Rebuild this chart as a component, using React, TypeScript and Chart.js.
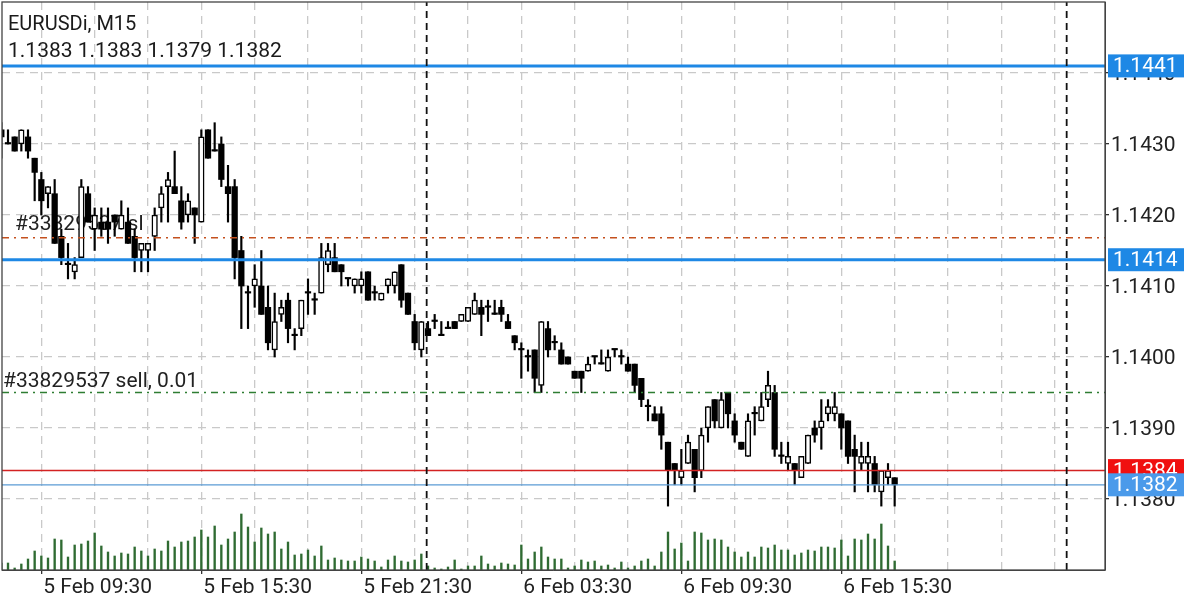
import React, { useEffect, useRef } from 'react';
import Chart from 'chart.js/auto';

// M15 bars, first bar = 5 Feb 08:00
const opens = [
  1.1432, 1.1430, 1.1431, 1.1430, 1.1431, 1.1428, 1.1425, 1.1423, 1.1423, 1.1417, 1.1413, 1.1412, 1.1414, 1.1423, 1.1418, 1.1419,
  1.1419, 1.1420, 1.1418, 1.1419, 1.1417, 1.1415, 1.1415, 1.1417, 1.1421, 1.1424, 1.1424, 1.1422, 1.1420, 1.1421, 1.1419, 1.1432,
  1.1429, 1.1430, 1.1424, 1.1424, 1.1415, 1.1409, 1.1410, 1.1410, 1.1407, 1.1401, 1.1406, 1.1408, 1.1403, 1.1404, 1.1409, 1.1408,
  1.1409, 1.1413, 1.1414, 1.1413, 1.1411, 1.1410, 1.1410, 1.1412, 1.1409, 1.1408, 1.1410, 1.1410, 1.1413, 1.1409, 1.1405, 1.1401,
  1.1404, 1.1405, 1.1403, 1.1404, 1.1405, 1.1405, 1.1405, 1.1406, 1.1407, 1.1407, 1.1406, 1.1407, 1.1405, 1.1403, 1.1401, 1.1400,
  1.1401, 1.1396, 1.1404, 1.1402, 1.1401, 1.1400, 1.1398, 1.1398, 1.1398, 1.1400, 1.1399, 1.1398, 1.1401, 1.1400, 1.1399, 1.1399,
  1.1397, 1.1393, 1.1392, 1.1392, 1.1388, 1.1385, 1.1383, 1.1385, 1.1387, 1.1384, 1.1390, 1.1394, 1.1390, 1.1395, 1.1391, 1.1388,
  1.1386, 1.1392, 1.1391, 1.1394, 1.1395, 1.1386, 1.1385, 1.1385, 1.1383, 1.1385, 1.1390, 1.1390, 1.1392, 1.1392, 1.1392, 1.1391,
  1.1387, 1.1385, 1.1385, 1.1385, 1.1381, 1.1383, 1.1383,
];
const highs = [
  1.1433, 1.1432, 1.1431, 1.1432, 1.1432, 1.1428, 1.1426, 1.1424, 1.1425, 1.1418, 1.1416, 1.1414, 1.1425, 1.1424, 1.1421, 1.1421,
  1.1421, 1.1420, 1.1422, 1.1421, 1.1418, 1.1416, 1.1416, 1.1421, 1.1424, 1.1426, 1.1429, 1.1424, 1.1423, 1.1421, 1.1432, 1.1432,
  1.1433, 1.1431, 1.1427, 1.1425, 1.1417, 1.1410, 1.1413, 1.1415, 1.1410, 1.1409, 1.1408, 1.1409, 1.1404, 1.1408, 1.1411, 1.1409,
  1.1416, 1.1416, 1.1416, 1.1413, 1.1411, 1.1411, 1.1412, 1.1412, 1.1410, 1.1409, 1.1411, 1.1412, 1.1413, 1.1409, 1.1406, 1.1405,
  1.1405, 1.1406, 1.1405, 1.1405, 1.1405, 1.1406, 1.1407, 1.1409, 1.1408, 1.1408, 1.1408, 1.1408, 1.1406, 1.1403, 1.1402, 1.1401,
  1.1401, 1.1405, 1.1405, 1.1403, 1.1402, 1.1400, 1.1398, 1.1398, 1.1400, 1.1400, 1.1401, 1.1401, 1.1401, 1.1401, 1.1400, 1.1399,
  1.1397, 1.1394, 1.1393, 1.1393, 1.1388, 1.1385, 1.1387, 1.1389, 1.1387, 1.1390, 1.1393, 1.1394, 1.1395, 1.1395, 1.1392, 1.1388,
  1.1392, 1.1393, 1.1395, 1.1398, 1.1396, 1.1388, 1.1388, 1.1385, 1.1386, 1.1389, 1.1391, 1.1394, 1.1394, 1.1395, 1.1392, 1.1391,
  1.1389, 1.1388, 1.1388, 1.1386, 1.1384, 1.1385, 1.1383,
];
const lows = [
  1.1428, 1.1430, 1.1429, 1.1429, 1.1428, 1.1422, 1.1420, 1.1421, 1.1416, 1.1413, 1.1411, 1.1411, 1.1414, 1.1419, 1.1415, 1.1417,
  1.1416, 1.1417, 1.1418, 1.1416, 1.1412, 1.1412, 1.1412, 1.1415, 1.1419, 1.1419, 1.1423, 1.1418, 1.1419, 1.1416, 1.1419, 1.1428,
  1.1429, 1.1424, 1.1419, 1.1411, 1.1404, 1.1404, 1.1407, 1.1406, 1.1401, 1.1400, 1.1405, 1.1402, 1.1401, 1.1403, 1.1406, 1.1406,
  1.1409, 1.1412, 1.1412, 1.1410, 1.1410, 1.1409, 1.1409, 1.1408, 1.1408, 1.1408, 1.1409, 1.1409, 1.1407, 1.1406, 1.1401, 1.1400,
  1.1403, 1.1404, 1.1403, 1.1404, 1.1404, 1.1405, 1.1405, 1.1406, 1.1403, 1.1405, 1.1406, 1.1405, 1.1404, 1.1401, 1.1397, 1.1398,
  1.1395, 1.1395, 1.1400, 1.1401, 1.1399, 1.1399, 1.1397, 1.1395, 1.1398, 1.1399, 1.1399, 1.1398, 1.1400, 1.1399, 1.1398, 1.1395,
  1.1393, 1.1391, 1.1391, 1.1387, 1.1379, 1.1382, 1.1382, 1.1385, 1.1381, 1.1383, 1.1388, 1.1390, 1.1390, 1.1390, 1.1388, 1.1387,
  1.1386, 1.1389, 1.1391, 1.1393, 1.1386, 1.1385, 1.1384, 1.1382, 1.1383, 1.1385, 1.1388, 1.1387, 1.1391, 1.1391, 1.1387, 1.1385,
  1.1381, 1.1384, 1.1381, 1.1381, 1.1379, 1.1382, 1.1379,
];
const closes = [
  1.1431, 1.1430, 1.1429, 1.1432, 1.1429, 1.1426, 1.1422, 1.1424, 1.1416, 1.1414, 1.1413, 1.1413, 1.1424, 1.1419, 1.1420, 1.1418,
  1.1418, 1.1419, 1.1420, 1.1416, 1.1414, 1.1416, 1.1416, 1.1420, 1.1423, 1.1425, 1.1423, 1.1419, 1.1422, 1.1420, 1.1431, 1.1428,
  1.1429, 1.1425, 1.1423, 1.1414, 1.1410, 1.1409, 1.1411, 1.1406, 1.1402, 1.1405, 1.1407, 1.1404, 1.1403, 1.1408, 1.1409, 1.1408,
  1.1414, 1.1415, 1.1412, 1.1412, 1.1411, 1.1411, 1.1411, 1.1408, 1.1409, 1.1409, 1.1411, 1.1412, 1.1408, 1.1406, 1.1402, 1.1405,
  1.1403, 1.1405, 1.1403, 1.1404, 1.1404, 1.1406, 1.1407, 1.1408, 1.1406, 1.1407, 1.1406, 1.1406, 1.1404, 1.1402, 1.1401, 1.1400,
  1.1397, 1.1405, 1.1401, 1.1402, 1.1399, 1.1399, 1.1397, 1.1397, 1.1399, 1.1400, 1.1399, 1.1400, 1.1401, 1.1400, 1.1398, 1.1396,
  1.1394, 1.1393, 1.1391, 1.1389, 1.1384, 1.1384, 1.1384, 1.1388, 1.1383, 1.1389, 1.1393, 1.1391, 1.1394, 1.1392, 1.1389, 1.1387,
  1.1391, 1.1392, 1.1393, 1.1396, 1.1387, 1.1386, 1.1386, 1.1384, 1.1386, 1.1389, 1.1389, 1.1391, 1.1393, 1.1393, 1.1390, 1.1386,
  1.1386, 1.1386, 1.1386, 1.1382, 1.1384, 1.1384, 1.1382,
];
const volumes = [
  7, 7, 2, 6, 11, 19, 14, 12, 31, 30, 13, 25, 26, 29, 37, 24,
  18, 14, 17, 16, 23, 19, 14, 21, 19, 29, 23, 28, 29, 33, 40, 33,
  44, 25, 31, 38, 56, 43, 28, 42, 36, 38, 21, 28, 15, 16, 20, 14,
  24, 10, 12, 10, 9, 9, 13, 11, 9, 3, 10, 14, 9, 8, 10, 16,
  4, 2, 1, 3, 10, 1, 4, 4, 14, 6, 4, 7, 6, 5, 25, 11,
  18, 23, 13, 11, 11, 2, 4, 10, 8, 9, 4, 5, 2, 8, 2, 4,
  9, 11, 4, 18, 38, 21, 27, 9, 38, 37, 30, 31, 30, 23, 18, 13,
  18, 13, 23, 22, 25, 20, 20, 15, 17, 20, 19, 23, 23, 22, 30, 14,
  31, 30, 36, 31, 46, 24, 9,
];

const barNumbers = opens.map((_, i) => i);

const gridBars = [6, 14, 22, 30, 38, 46, 54, 62, 70, 78, 86, 94, 102, 110, 118, 126, 134, 142, 150, 158];
const timeTickBars = [6, 30, 54, 78, 102, 126];
const timeTickLabels = ['5 Feb 09:30', '5 Feb 15:30', '5 Feb 21:30', '6 Feb 03:30', '6 Feb 09:30', '6 Feb 15:30'];
const priceTicks = [1.138, 1.139, 1.14, 1.141, 1.142, 1.143, 1.144];
const daySeparators = [63.8, 159.8];

const X_MIN = 0.1;
const X_MAX = 165.55;
const Y_MIN = 1.137;
const Y_MAX = 1.145;

// order levels are drawn in matters: the last price tag sits on top of the red one
const priceTags = [
  { y: 1.1441, text: '1.1441', color: '#1e88e5' },
  { y: 1.14137, text: '1.1414', color: '#1e88e5' },
  { y: 1.1384, text: '1.1384', color: '#f01010' },
  { y: 1.1382, text: '1.1382', color: '#4a9aea' },
];

const FONT = '21px Roboto';

const levelLine = (y: number, color: string, width: number, dash: number[] = []) => ({
  type: 'line' as const,
  data: [{ x: X_MIN, y }, { x: X_MAX, y }],
  borderColor: color,
  borderWidth: width,
  borderDash: dash,
  pointRadius: 0,
  order: 2,
});

const separatorLine = (x: number) => ({
  type: 'line' as const,
  data: [{ x, y: Y_MIN }, { x, y: Y_MAX }],
  borderColor: '#111111',
  borderWidth: 1.8,
  borderDash: [7, 5],
  pointRadius: 0,
  order: 1,
});

// order labels sit behind the candles, the rest goes over them
const orderLabels = {
  id: 'orderLabels',
  beforeDatasetsDraw(chart: any) {
    const { ctx, scales } = chart;
    ctx.save();
    ctx.font = FONT;
    ctx.fillStyle = '#222222';
    ctx.textAlign = 'left';
    ctx.textBaseline = 'alphabetic';
    ctx.fillText('#33829537 sl', 15, scales.y.getPixelForValue(1.14168) - 8);
    ctx.fillText('#33829537 sell, 0.01', 3, scales.y.getPixelForValue(1.1395) - 6);
    ctx.restore();
  },
};

const overlay = {
  id: 'overlay',
  afterDraw(chart: any) {
    const { ctx, chartArea, scales } = chart;
    ctx.save();
    ctx.strokeStyle = '#444444';
    ctx.lineWidth = 1.3;
    ctx.strokeRect(chartArea.left, chartArea.top, chartArea.right - chartArea.left, chartArea.bottom - chartArea.top);

    ctx.textAlign = 'left';
    ctx.textBaseline = 'alphabetic';
    ctx.fillStyle = '#1a1a1a';
    ctx.font = '20px Roboto';
    ctx.fillText('EURUSDi, M15', 8, 30);
    ctx.font = FONT;
    ctx.fillText('1.1383 1.1383 1.1379 1.1382', 8, 57);

    ctx.textBaseline = 'middle';
    priceTags.forEach(tag => {
      const y = scales.y.getPixelForValue(tag.y);
      ctx.fillStyle = tag.color;
      ctx.fillRect(chartArea.right + 3, y - 11.5, 76, 23);
      ctx.fillStyle = '#ffffff';
      ctx.fillText(tag.text, chartArea.right + 8, y + 1);
    });
    ctx.restore();
  },
};

const App: React.FC = () => {
  const chartRef = useRef<HTMLCanvasElement>(null);

  useEffect(() => {
    if (!chartRef.current) return;

    const wicks = barNumbers.map(i => ({ x: i, y: [lows[i], highs[i]] }));
    const upBars = barNumbers.filter(i => closes[i] > opens[i]).map(i => ({ x: i, y: [opens[i], closes[i]] }));
    const downBars = barNumbers.filter(i => closes[i] <= opens[i]).map(i => ({ x: i, y: [closes[i], opens[i]] }));

    const chart = new Chart(chartRef.current, {
      type: 'bar',
      data: {
        datasets: [
          {
            data: barNumbers.map(i => ({ x: i, y: volumes[i] })),
            yAxisID: 'vol',
            backgroundColor: '#2f6b32',
            barThickness: 1.7,
            order: 6,
          },
          { data: wicks, backgroundColor: '#000000', barThickness: 1.5, order: 5 },
          {
            data: upBars,
            backgroundColor: '#ffffff',
            borderColor: '#000000',
            borderWidth: 1.5,
            borderSkipped: false,
            barThickness: 5.6,
            order: 4,
          },
          {
            data: downBars,
            backgroundColor: '#000000',
            borderColor: '#000000',
            borderWidth: 0,
            barThickness: 5.6,
            minBarLength: 1.5,
            order: 4,
          },
          levelLine(1.14168, '#c4501e', 1.6, [7, 5, 2, 5]),
          levelLine(1.1395, '#2e7d32', 1.6, [7, 5, 2, 5]),
          levelLine(1.1384, '#d32222', 1.5),
          levelLine(1.1382, '#5b9bd5', 1.3),
          levelLine(1.1441, '#1e88e5', 3),
          levelLine(1.14137, '#1e88e5', 3),
          separatorLine(daySeparators[0]),
          separatorLine(daySeparators[1]),
        ] as any,
      },
      options: {
        responsive: false,
        animation: false,
        layout: { padding: { left: 2, top: 2, right: 0, bottom: 0 } },
        datasets: { bar: { grouped: false } },
        plugins: { legend: { display: false }, tooltip: { enabled: false } },
        scales: {
          x: {
            type: 'linear',
            offset: false,
            min: X_MIN,
            max: X_MAX,
            afterBuildTicks: (axis: any) => {
              axis.ticks = gridBars.map(value => ({ value }));
            },
            afterFit: (axis: any) => {
              axis.height = 30;
              axis.paddingLeft = 0;
              axis.paddingRight = 0;
            },
            grid: {
              offset: false,
              color: '#c9c9c9',
              lineWidth: 1.3,
              tickLength: 4,
              tickColor: (c: any) => (timeTickBars.includes(c.tick?.value) ? '#333333' : 'transparent'),
            },
            border: { dash: [8, 6], color: '#444444' },
            ticks: {
              autoSkip: false,
              maxRotation: 0,
              align: 'start',
              labelOffset: 2,
              padding: 1,
              color: '#222222',
              font: { family: 'Roboto', size: 21 },
              callback: (value: any) => timeTickLabels[timeTickBars.indexOf(value)] ?? '',
            },
          },
          y: {
            position: 'right',
            min: Y_MIN,
            max: Y_MAX,
            afterBuildTicks: (axis: any) => {
              axis.ticks = priceTicks.map(value => ({ value }));
            },
            afterFit: (axis: any) => {
              axis.width = 95;
              axis.paddingTop = 0;
              axis.paddingBottom = 0;
            },
            grid: {
              color: '#c9c9c9',
              lineWidth: 1.3,
              tickLength: 4,
              tickColor: '#333333',
            },
            border: { dash: [8, 6], color: '#444444' },
            ticks: {
              padding: 2,
              labelOffset: 2,
              color: '#222222',
              font: { family: 'Roboto', size: 21 },
              callback: (value: any) => Number(value).toFixed(4),
            },
          },
          vol: { display: false, min: 0, max: 568 },
        },
      } as any,
      plugins: [orderLabels, overlay],
    });

    return () => chart.destroy();
  }, []);

  return (
    <div style={{ position: 'absolute', left: 0, top: 0, width: 1200, height: 600, background: '#ffffff' }}>
      <canvas ref={chartRef} width={1200} height={600} style={{ display: 'block' }} />
    </div>
  );
};

export default App;
